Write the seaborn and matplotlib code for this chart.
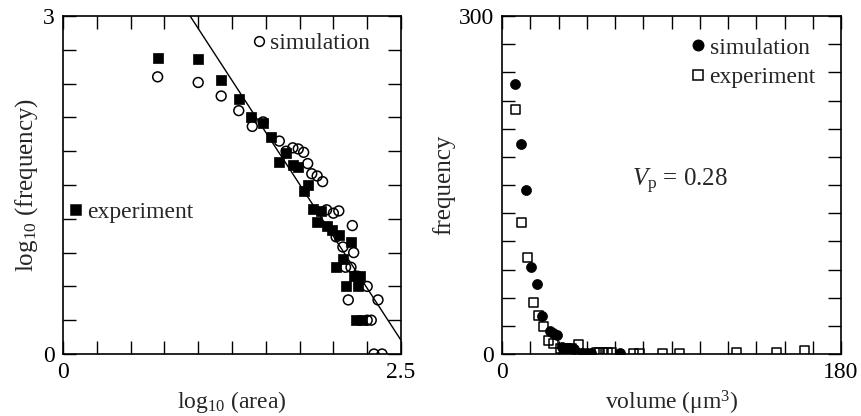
import numpy as np
import pandas as pd
import matplotlib
matplotlib.use("Agg")
import matplotlib.pyplot as plt
import seaborn as sns
from matplotlib.lines import Line2D

# ---------------- data (left panel: log-log area distribution) ----------------
exp_logarea = [0.70, 1.00, 1.17, 1.30, 1.39, 1.48, 1.54, 1.60, 1.65, 1.70, 1.74, 1.78, 1.81,
               1.85, 1.91, 1.88, 1.95, 1.99, 2.04, 2.13, 2.07, 2.02, 2.15, 2.20, 2.09, 2.18,
               2.17, 2.21]
exp_logfreq = [2.63, 2.62, 2.43, 2.26, 2.10, 2.05, 1.93, 1.70, 1.78, 1.68, 1.66, 1.45, 1.50,
               1.29, 1.27, 1.17, 1.14, 1.10, 1.06, 0.99, 0.84, 0.77, 0.69, 0.69, 0.60, 0.60,
               0.30, 0.30]
sim_logarea = [0.70, 1.00, 1.17, 1.30, 1.40, 1.48, 1.60, 1.65, 1.70, 1.74, 1.78, 1.81, 1.84,
               1.88, 1.92, 1.95, 2.00, 2.04, 2.14, 2.02, 2.07, 2.15, 2.09, 2.13, 2.18, 2.25,
               2.11, 2.33, 2.25, 2.28, 2.30, 2.36]
sim_logfreq = [2.46, 2.41, 2.29, 2.16, 2.02, 2.06, 1.89, 1.80, 1.83, 1.82, 1.79, 1.69, 1.60,
               1.58, 1.53, 1.28, 1.25, 1.27, 1.14, 1.04, 0.95, 0.90, 0.77, 0.77, 0.69, 0.60,
               0.48, 0.48, 0.30, 0.30, 0.00, 0.00]
fit_logarea = [0.94, 2.50]
fit_logfreq = [3.00, 0.122]

# ---------------- data (right panel: volume distribution) ----------------
sim_volume = [6.9, 9.9, 12.7, 15.4, 18.4, 21.1, 25.5, 27.3, 29.4, 32.0, 35.0, 38.0,
              43.0, 45.0, 47.0, 62.7]
sim_freq = [240, 186, 146, 77, 62, 34, 20.7, 19, 17, 6, 5, 4, 1, 1, 1, 1]
exp_volume = [7.4, 10.4, 13.6, 16.6, 19.3, 21.9, 24.6, 27.6, 31.0, 33.0, 35.0, 37.0, 40.5,
              50.0, 52.0, 54.0, 56.0, 58.0, 70.0, 73.0, 85.0, 94.0, 124.5, 145.5, 160.5]
exp_freq = [217, 117, 86, 46, 34, 24, 12, 9.5, 5, 5, 5, 5, 8,
            1, 1, 1, 1, 1, 0.6, 0.6, 0.6, 0.6, 1, 1, 3]

left_xlim = (0, 2.5)
left_ylim = (0, 3)
right_xlim = (0, 180)
right_ylim = (0, 300)

# ---------------- style ----------------
sns.set_style("white")
plt.rcParams["font.family"] = ["Liberation Serif", "DejaVu Serif"]
plt.rcParams["mathtext.fontset"] = "custom"
plt.rcParams["mathtext.rm"] = "Liberation Serif"
plt.rcParams["mathtext.it"] = "Liberation Serif:italic"
FS = 17

W, H = 861, 416
fig = plt.figure(figsize=(W / 100, H / 100), dpi=100)
fig.patch.set_facecolor("white")
axL = fig.add_axes([63 / W, (H - 354) / H, 338 / W, 338 / H])
axR = fig.add_axes([502 / W, (H - 354) / H, 339 / W, 338 / H])

df_exp_L = pd.DataFrame({"x": exp_logarea, "y": exp_logfreq})
df_sim_L = pd.DataFrame({"x": sim_logarea, "y": sim_logfreq})
df_fit = pd.DataFrame({"x": fit_logarea, "y": fit_logfreq})
df_sim_R = pd.DataFrame({"x": sim_volume, "y": sim_freq})
df_exp_R = pd.DataFrame({"x": exp_volume, "y": exp_freq})

# left panel
sns.lineplot(data=df_fit, x="x", y="y", ax=axL, color="black", linewidth=1.0, zorder=2)
sns.scatterplot(data=df_sim_L, x="x", y="y", ax=axL, marker="o", s=50,
                facecolor="none", edgecolor="black", linewidth=1.1, zorder=3)
sns.scatterplot(data=df_exp_L, x="x", y="y", ax=axL, marker="s", s=42,
                color="black", edgecolor="black", linewidth=0.5, zorder=4)

# right panel
sns.scatterplot(data=df_exp_R, x="x", y="y", ax=axR, marker="s", s=42,
                facecolor="none", edgecolor="black", linewidth=1.1, zorder=3)
sns.scatterplot(data=df_sim_R, x="x", y="y", ax=axR, marker="o", s=52,
                color="black", edgecolor="black", linewidth=0.5, zorder=4)


def style_axis(ax, xlim, ylim, nx, ny, xlabels, ylabels):
    ax.set_xlim(*xlim)
    ax.set_ylim(*ylim)
    xt = np.linspace(xlim[0], xlim[1], nx + 1)
    yt = np.linspace(ylim[0], ylim[1], ny + 1)
    ax.set_xticks(xt)
    ax.set_yticks(yt)
    ax.set_xticklabels([xlabels[0]] + [""] * (nx - 1) + [xlabels[1]])
    ax.set_yticklabels([ylabels[0]] + [""] * (ny - 1) + [ylabels[1]])
    ax.tick_params(direction="in", length=9.5, width=1.0, top=True, right=True,
                   bottom=True, left=True, labelsize=FS, pad=6, colors="black")
    for sp in ax.spines.values():
        sp.set_visible(True)
        sp.set_linewidth(1.2)
        sp.set_color("black")
    ax.set_facecolor("white")


style_axis(axL, left_xlim, left_ylim, 10, 10, ["0", "2.5"], ["0", "3"])
style_axis(axR, right_xlim, right_ylim, 12, 12, ["0", "180"], ["0", "300"])

axL.set_xlabel(r"log$_{10}$ (area)", fontsize=FS, labelpad=4)
axL.set_ylabel(r"log$_{10}$ (frequency)", fontsize=FS + 1, labelpad=2)
axR.set_xlabel(r"volume (μm$^{3}$)", fontsize=FS, labelpad=4)
axR.set_ylabel("frequency", fontsize=FS + 1, labelpad=2)

axR.text(0.525, 0.51, r"$V_{\rm p}$ = 0.28", transform=axR.transAxes, fontsize=FS + 1,
         ha="center", va="center")

# legends
def mk(marker, filled, ms):
    return Line2D([], [], linestyle="none", marker=marker, markersize=ms,
                  markerfacecolor="black" if filled else "white",
                  markeredgecolor="black", markeredgewidth=1.1)

lkw = dict(frameon=False, fontsize=FS, handlelength=0.5, handletextpad=0.22,
           borderpad=0, borderaxespad=0, loc="center left")
legA = axL.legend([mk("o", False, 7)], ["simulation"], bbox_to_anchor=(0.562, 0.92), **lkw)
axL.add_artist(legA)
legB = axL.legend([mk("s", True, 6.5)], ["experiment"], bbox_to_anchor=(0.02, 0.42), **lkw)
axR.legend([mk("o", True, 7.5), mk("s", False, 6.5)], ["simulation", "experiment"],
           bbox_to_anchor=(0.562, 0.862), labelspacing=0.33, **lkw)

fig.savefig("out.png", dpi=100, facecolor="white")
